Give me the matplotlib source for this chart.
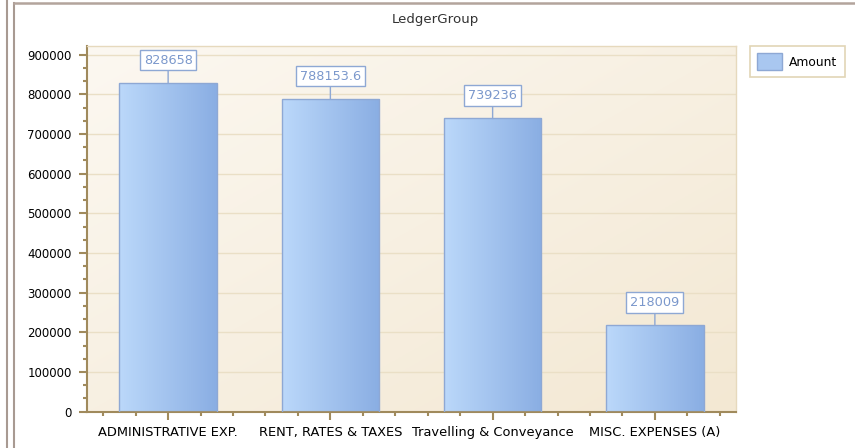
import numpy as np
import matplotlib.pyplot as plt
from matplotlib.lines import Line2D
from matplotlib.patches import Patch

categories = ['ADMINISTRATIVE EXP.', 'RENT, RATES & TAXES', 'Travelling & Conveyance', 'MISC. EXPENSES (A)']
amounts = [828658, 788153.6, 739236, 218009]
value_labels = ['828658', '788153.6', '739236', '218009']

axis_col = '#a08a5c'
grid_col = '#eadfc6'

fig = plt.figure(figsize=(8.55, 4.48), dpi=100)
W, H = 855, 448
ax = fig.add_axes([87 / W, (H - 411.7) / H, (736 - 87) / W, (411.7 - 46) / H])

x = np.arange(len(categories))
ax.set_xlim(-0.5, len(categories) - 0.5)
ax.set_ylim(0, 922000)

# background gradient (light cream top-left -> beige bottom-right)
gx, gy = np.meshgrid(np.linspace(0, 1, 200), np.linspace(0, 1, 200))
t = (gx + gy) / 2
c1 = np.array([0xfc, 0xf8, 0xf1]) / 255
c2 = np.array([0xf3, 0xe8, 0xd3]) / 255
bg = c1[None, None, :] * (1 - t[..., None]) + c2[None, None, :] * t[..., None]
ax.imshow(bg, extent=[-0.5, len(categories) - 0.5, 0, 922000], aspect='auto',
          origin='upper', zorder=0)

ax.yaxis.grid(True, color=grid_col, linewidth=1.0, zorder=1)
ax.set_axisbelow(True)

# bars with horizontal gradient
bar_w = 0.6
bars = ax.bar(x, amounts, width=bar_w, facecolor='none', edgecolor='#8ea8d4',
              linewidth=1.0, zorder=3)
lb = np.array([0xbb, 0xd8, 0xfa]) / 255
rb = np.array([0x8a, 0xae, 0xe3]) / 255
s = np.linspace(0, 1, 100)
grad = lb[None, None, :] * (1 - s[None, :, None]) + rb[None, None, :] * s[None, :, None]
for b in bars:
    im = ax.imshow(grad, extent=[b.get_x(), b.get_x() + b.get_width(), 0, b.get_height()],
                   aspect='auto', zorder=2)
    im.set_clip_path(b)

# value labels
for xi, v, lab in zip(x, amounts, value_labels):
    ax.annotate(lab, xy=(xi, v), xytext=(0, 23), textcoords='offset pixels',
                ha='center', va='center', fontsize=9.3, color='#7b98cc',
                bbox=dict(boxstyle='square,pad=0.3', fc='white', ec='#8ea8d4', lw=1.0),
                arrowprops=dict(arrowstyle='-', color='#8ea8d4', lw=1.0,
                                shrinkA=0, shrinkB=0),
                zorder=5)

ax.set_yticks(np.arange(0, 900001, 100000))
ax.set_yticklabels([str(v) for v in range(0, 900001, 100000)])
ax.set_yticks(np.arange(0, 922000, 100000 / 3), minor=True)
ax.set_xticks(x)
ax.set_xticklabels(categories)
ax.set_xticks(np.arange(-0.4, 3.5, 0.2), minor=True)

ax.tick_params(axis='both', which='major', direction='out', length=6, width=1.5,
               color=axis_col, labelcolor='black')
ax.tick_params(axis='both', which='minor', direction='out', length=3, width=1.5,
               color=axis_col)
ax.tick_params(axis='x', which='major', pad=4, labelsize=9.4)
ax.tick_params(axis='y', which='major', pad=5, labelsize=8.5)

for side in ['left', 'bottom']:
    ax.spines[side].set_color(axis_col)
    ax.spines[side].set_linewidth(1.5)
for side in ['top', 'right']:
    ax.spines[side].set_color('#e6d9bd')
    ax.spines[side].set_linewidth(1.0)

fig.text(435 / W, 1 - 20 / H, 'LedgerGroup', fontsize=9.6, color='#333333',
         ha='center', va='center')

handles = [Patch(facecolor='#a9c7f0', edgecolor='#8ea8d4', label='Amount')]
leg = fig.legend(handles=handles, loc='upper left', bbox_to_anchor=(750 / W, 1 - 46 / H),
                 fontsize=8.8, fancybox=False, framealpha=1, edgecolor='#e2d5b6',
                 handlelength=2.0, handleheight=1.7, borderpad=0.6, handletextpad=0.6,
                 borderaxespad=0)
leg.get_frame().set_linewidth(1.2)

# outer panel frame lines
fig.add_artist(Line2D([7 / W, 7 / W], [0, 1], color='#a89a92', lw=1.5))
fig.add_artist(Line2D([13.5 / W, 13.5 / W], [0, 1 - 3 / H], color='#a89a92', lw=1.5))
fig.add_artist(Line2D([13.5 / W, 1], [1 - 3.5 / H, 1 - 3.5 / H], color='#b3a49c', lw=1.8))

fig.savefig('out.png', dpi=100)
